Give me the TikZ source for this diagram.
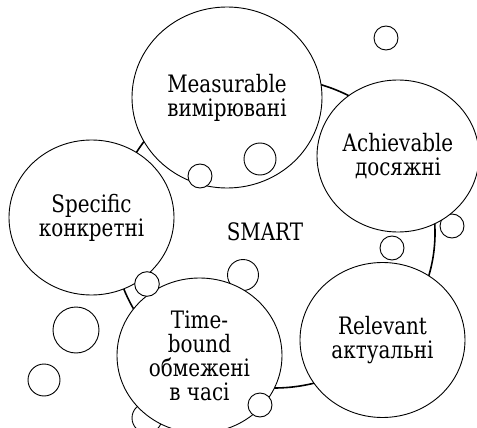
\documentclass[tikz,border=0pt]{standalone}
\usepackage{fontspec}
\setmainfont{DejaVu Serif}[FakeStretch=0.83]
\usetikzlibrary{shapes.geometric}
\tikzset{
  goal/.style={ellipse,draw,fill=white,line width=0.9pt,inner sep=0pt,align=center,font=\fontsize{24}{24}\selectfont},
  bubble/.style={draw,fill=white,line width=0.9pt},
  ring/.style={draw,line width=1.6pt}
}
\begin{document}
\begin{tikzpicture}[x=1pt,y=-1pt]
\useasboundingbox (0,0) rectangle (477,428);
\draw[ring] (274,233) ellipse [x radius=161, y radius=155];

\foreach \x/\y/\r in {452/226/12, 243/275/15.5, 147/418/15}
    \draw[bubble] (\x,\y) circle [radius=\r];

\node[goal, minimum width=190pt, minimum height=181pt] (measurable) at (227,97.5) {Measurable\\вимірювані};
\node[goal, minimum width=162pt, minimum height=152pt] (achievable) at (398,156) {Achievable\\досяжні};
\node[goal, minimum width=165pt, minimum height=155pt] (specific) at (91.5,217.5) {Specific\\конкретні};
\node[goal, minimum width=165pt, minimum height=155pt] (relevant) at (382.5,340) {Relevant\\актуальні};
\node[goal, minimum width=165pt, minimum height=155pt] (timebound) at (199.5,355.5) {Time-\\bound\\обмежені\\в часі};

\node[font=\fontsize{24}{24}\selectfont] (smart) at (265,232) {SMART};

\foreach \x/\y/\r in {386/38/12, 260/159/16, 200/176/12, 392/248/12, 147/284/12.3, 76/330/23, 44/380/16, 260/405/12}
    \draw[bubble] (\x,\y) circle [radius=\r];
\end{tikzpicture}
\end{document}
